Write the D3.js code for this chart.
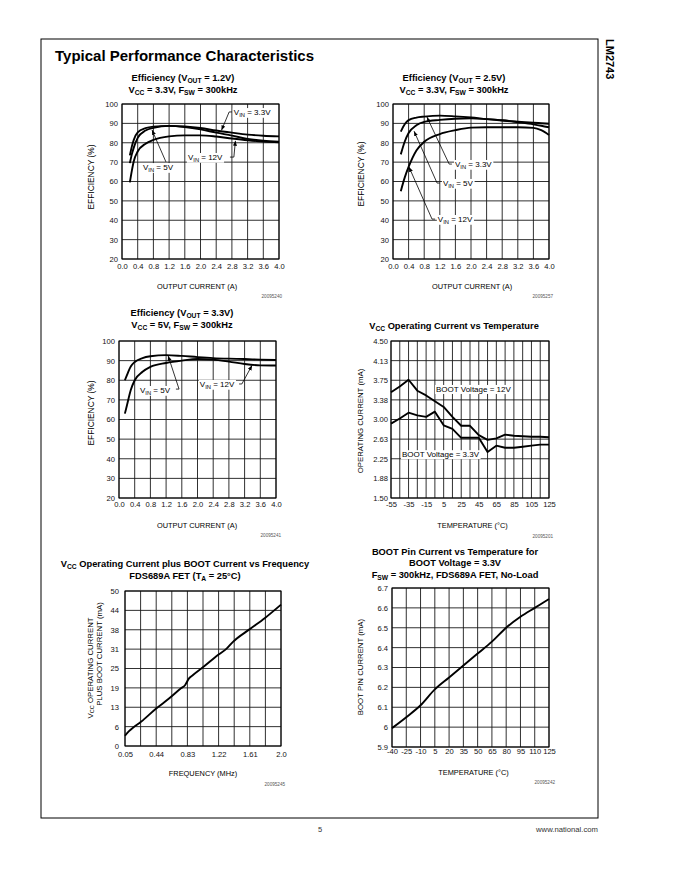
<!DOCTYPE html>
<html>
<head>
<meta charset="utf-8">
<script src="https://cdn.jsdelivr.net/npm/d3@7"></script>
<style>
  body { margin: 0; background: #fff; }
  svg { display: block; font-family: "Liberation Sans", Arial, Helvetica, sans-serif; }
</style>
</head>
<body>
<div id="page"></div>
<script>
// ---- Efficiency, VOUT = 1.2V ----
const eff1Current = [0.2, 0.25, 0.3, 0.4, 0.6, 0.8, 1.2, 1.6, 2.0, 2.4, 2.8, 3.2, 3.6, 4.0];
const eff1Vin33 = [73.5, 78, 81.5, 85.3, 87.5, 88.3, 88.7, 88.4, 87.6, 86.3, 85.2, 84.2, 83.6, 83.3];
const eff1Vin5 = [69.5, 74, 77.5, 82.5, 86.3, 87.7, 88.7, 88.1, 86.9, 85.2, 83.7, 82, 81, 80.5];
const eff1Vin12 = [59.5, 65.5, 70.5, 75.5, 79.5, 81.5, 83.3, 83.8, 83.8, 83.2, 82.2, 81.3, 80.6, 80.2];

// ---- Efficiency, VOUT = 2.5V ----
const eff2Current = [0.2, 0.3, 0.4, 0.6, 0.8, 1.2, 1.6, 2.0, 2.4, 2.8, 3.2, 3.6, 3.8, 4.0];
const eff2Vin33 = [85.7, 89.5, 91.7, 93, 93.5, 94, 93.6, 93, 92.2, 91.5, 90.9, 90.4, 90.1, 89.8];
const eff2Vin5 = [74, 80.5, 85, 89, 90.8, 91.8, 92.4, 92.6, 92.2, 91.6, 90.6, 89.5, 88.8, 88];
const eff2Vin12 = [55, 62, 67.5, 76, 80.5, 84.5, 86.5, 87.8, 88, 88, 88, 87.7, 86.5, 84];

// ---- Efficiency, VOUT = 3.3V ----
const eff3Current = [0.15, 0.2, 0.3, 0.4, 0.6, 0.8, 1.2, 1.6, 2.0, 2.4, 2.8, 3.2, 3.6, 4.0];
const eff3Vin5 = [80, 82.5, 87, 89.3, 91.3, 92.2, 92.8, 92.4, 91.8, 91.3, 91, 90.8, 90.5, 90.3];
const eff3Vin12 = [63, 67, 75, 80, 84.3, 86.8, 88.8, 90, 90.8, 90.5, 89.5, 88.3, 87.6, 87.5];

// ---- VCC operating current vs temperature ----
const opTemp = [-55, -45, -35, -25, -15, -5, 5, 15, 25, 35, 45, 55, 65, 75, 85, 95, 105, 115, 125];
const opBoot12 = [3.52, 3.63, 3.76, 3.55, 3.46, 3.35, 3.24, 3.05, 2.88, 2.88, 2.70, 2.61, 2.64, 2.71, 2.69, 2.68, 2.67, 2.67, 2.66];
const opBoot33 = [2.92, 3.02, 3.13, 3.08, 3.05, 3.15, 2.89, 2.82, 2.65, 2.65, 2.65, 2.38, 2.50, 2.46, 2.46, 2.48, 2.50, 2.52, 2.52];

// ---- VCC + BOOT current vs frequency ----
const freqMHz = [0.05, 0.10, 0.15, 0.25, 0.44, 0.60, 0.75, 0.80, 0.85, 0.90, 1.02, 1.22, 1.32, 1.40, 1.61, 1.80, 2.0];
const freqCurrent = [3.3, 4.8, 5.9, 7.8, 12.1, 15.3, 18.6, 19.6, 21.8, 22.9, 25.3, 29.5, 31.4, 33.6, 37.7, 41.3, 45.6];

// ---- BOOT pin current vs temperature ----
const bootTemp = [-40, -25, -10, 5, 20, 35, 50, 65, 80, 95, 110, 125];
const bootCurrent = [5.995, 6.05, 6.11, 6.19, 6.25, 6.31, 6.37, 6.43, 6.50, 6.555, 6.60, 6.645];

// ---- axes ----
const effXTicks = [0, 0.4, 0.8, 1.2, 1.6, 2.0, 2.4, 2.8, 3.2, 3.6, 4.0];
const effXLabels = ['0.0', '0.4', '0.8', '1.2', '1.6', '2.0', '2.4', '2.8', '3.2', '3.6', '4.0'];
const effYTicks = [20, 30, 40, 50, 60, 70, 80, 90, 100];
const effYLabels = ['20', '30', '40', '50', '60', '70', '80', '90', '100'];

const opXGrid = [-55, -45, -35, -25, -15, -5, 5, 15, 25, 35, 45, 55, 65, 75, 85, 95, 105, 115, 125];
const opXTicks = [-55, -35, -15, 5, 25, 45, 65, 85, 105, 125];
const opXLabels = ['-55', '-35', '-15', '5', '25', '45', '65', '85', '105', '125'];
const opYTicks = [1.5, 1.875, 2.25, 2.625, 3.0, 3.375, 3.75, 4.125, 4.5];
const opYLabels = ['1.50', '1.88', '2.25', '2.63', '3.00', '3.38', '3.75', '4.13', '4.50'];

const freqXGrid = [0.05, 0.245, 0.44, 0.635, 0.83, 1.025, 1.22, 1.415, 1.61, 1.805, 2.0];
const freqXTicks = [0.05, 0.44, 0.83, 1.22, 1.61, 2.0];
const freqXLabels = ['0.05', '0.44', '0.83', '1.22', '1.61', '2.0'];
const freqYTicks = [0, 6.25, 12.5, 18.75, 25, 31.25, 37.5, 43.75, 50];
const freqYLabels = ['0', '6', '13', '19', '25', '31', '38', '44', '50'];

const bootXTicks = [-40, -25, -10, 5, 20, 35, 50, 65, 80, 95, 110, 125];
const bootXLabels = ['-40', '-25', '-10', '5', '20', '35', '50', '65', '80', '95', '110', '125'];
const bootYTicks = [5.9, 6.0, 6.1, 6.2, 6.3, 6.4, 6.5, 6.6, 6.7];
const bootYLabels = ['5.9', '6', '6.1', '6.2', '6.3', '6.4', '6.5', '6.6', '6.7'];

const W = 680, H = 880;
const svg = d3.select('#page').append('svg').attr('width', W).attr('height', H);

svg.append('defs').append('marker')
  .attr('id', 'arrow')
  .attr('viewBox', '0 0 10 10')
  .attr('refX', 10).attr('refY', 5)
  .attr('markerWidth', 5).attr('markerHeight', 5)
  .attr('markerUnits', 'userSpaceOnUse')
  .attr('orient', 'auto')
  .append('path')
  .attr('d', 'M0,1L10,5L0,9Z')
  .attr('fill', '#000');

// text with _{sub} markup
function rich(text, str, size) {
  const parts = str.split(/_\{([^}]*)\}/);
  let shifted = false;
  parts.forEach((p, i) => {
    if (p === '') return;
    const t = text.append('tspan').text(p);
    if (i % 2 === 1) {
      t.attr('font-size', size * 0.72).attr('dy', size * 0.22);
      shifted = true;
    } else if (shifted) {
      t.attr('dy', -size * 0.22);
      shifted = false;
    }
  });
  return text;
}

// Page frame
svg.append('rect')
  .attr('x', 41).attr('y', 39).attr('width', 557).attr('height', 779)
  .attr('fill', 'none').attr('stroke', '#000').attr('stroke-width', 1);

svg.append('text')
  .attr('x', 55).attr('y', 61)
  .attr('font-size', 15).attr('font-weight', 'bold')
  .text('Typical Performance Characteristics');

svg.append('text')
  .attr('transform', 'translate(606,39) rotate(90)')
  .attr('font-size', 11).attr('font-weight', 'bold')
  .text('LM2743');

svg.append('text')
  .attr('x', 320).attr('y', 832).attr('text-anchor', 'middle')
  .attr('font-size', 7.5).attr('fill', '#333')
  .text('5');

svg.append('text')
  .attr('x', 598).attr('y', 832).attr('text-anchor', 'end')
  .attr('font-size', 7.7).attr('fill', '#333')
  .text('www.national.com');

function drawChart(c) {
  const g = svg.append('g');
  const x = d3.scaleLinear().domain(c.xDomain).range([c.left, c.right]);
  const y = d3.scaleLinear().domain(c.yDomain).range([c.bottom, c.top]);

  // grid
  g.append('g').selectAll('line')
    .data(c.xGrid)
    .join('line')
    .attr('x1', d => x(d)).attr('x2', d => x(d))
    .attr('y1', c.top).attr('y2', c.bottom)
    .attr('stroke', '#1a1a1a').attr('stroke-width', 0.9);
  g.append('g').selectAll('line')
    .data(c.yTicks)
    .join('line')
    .attr('x1', c.left).attr('x2', c.right)
    .attr('y1', d => y(d)).attr('y2', d => y(d))
    .attr('stroke', '#1a1a1a').attr('stroke-width', 0.9);
  g.append('rect')
    .attr('x', c.left).attr('y', c.top)
    .attr('width', c.right - c.left).attr('height', c.bottom - c.top)
    .attr('fill', 'none').attr('stroke', '#000').attr('stroke-width', 1);

  // tick labels
  const xAxis = g.append('g')
    .attr('transform', `translate(0,${c.bottom})`)
    .call(d3.axisBottom(x).tickValues(c.xTicks).tickSize(0).tickPadding(c.xPad)
      .tickFormat((d, i) => c.xLabels[i]));
  const yAxis = g.append('g')
    .attr('transform', `translate(${c.left},0)`)
    .call(d3.axisLeft(y).tickValues(c.yTicks).tickSize(0).tickPadding(c.yPad)
      .tickFormat((d, i) => c.yLabels[i]));
  [xAxis, yAxis].forEach(a => {
    a.select('.domain').remove();
    a.selectAll('text').attr('font-size', 7.6).attr('fill', '#111')
      .style('font-family', '"Liberation Sans", Arial, sans-serif');
  });

  // series
  const line = d3.line()
    .x(d => x(d[0])).y(d => y(d[1]))
    .curve(c.curve || d3.curveLinear);
  c.series.forEach(s => {
    g.append('path')
      .datum(s.x.map((v, i) => [v, s.y[i]]))
      .attr('d', line)
      .attr('fill', 'none')
      .attr('stroke', '#000')
      .attr('stroke-width', 1.9)
      .attr('stroke-linejoin', 'round');
  });

  // annotations
  (c.notes || []).forEach(n => {
    if (n.path) {
      g.append('path')
        .attr('d', d3.line()(n.path.map(p => [x(p[0]), y(p[1])])))
        .attr('fill', 'none').attr('stroke', '#000').attr('stroke-width', 0.8)
        .attr('marker-end', 'url(#arrow)');
    }
    const t = g.append('text')
      .attr('x', x(n.at[0])).attr('y', y(n.at[1]))
      .attr('font-size', 8);
    rich(t, n.text, 8);
    const bb = t.node().getBBox();
    g.insert('rect', () => t.node())
      .attr('x', bb.x - 1).attr('y', bb.y)
      .attr('width', bb.width + 2).attr('height', bb.height)
      .attr('fill', '#fff');
  });

  // titles
  c.title.forEach((s, i) => {
    const t = g.append('text')
      .attr('x', c.titleX).attr('y', c.titleY[i])
      .attr('text-anchor', 'middle')
      .attr('font-size', 9.3).attr('font-weight', 'bold');
    rich(t, s, 9.3);
  });

  // axis titles
  const xt = g.append('text')
    .attr('x', c.xTitleAt[0]).attr('y', c.xTitleAt[1])
    .attr('text-anchor', 'middle').attr('font-size', 7.4);
  rich(xt, c.xTitle, 7.4);
  c.yTitle.forEach((s, i) => {
    const yt = g.append('text')
      .attr('transform', `translate(${c.yTitleAt[i][0]},${c.yTitleAt[i][1]}) rotate(-90)`)
      .attr('text-anchor', 'middle').attr('font-size', c.yTitleSize || 7.8);
    rich(yt, s, c.yTitleSize || 7.8);
  });

  g.append('text')
    .attr('x', c.idAt[0]).attr('y', c.idAt[1])
    .attr('text-anchor', 'end').attr('font-size', 4.6).attr('fill', '#555')
    .text(c.id);
}

// 1. Efficiency VOUT = 1.2V
drawChart({
  left: 122, right: 279, top: 104, bottom: 259,
  xDomain: [0, 4], yDomain: [20, 100],
  xGrid: effXTicks, xTicks: effXTicks, xLabels: effXLabels,
  yTicks: effYTicks, yLabels: effYLabels, xPad: 5, yPad: 4,
  curve: d3.curveMonotoneX,
  series: [
    { x: eff1Current, y: eff1Vin33 },
    { x: eff1Current, y: eff1Vin5 },
    { x: eff1Current, y: eff1Vin12 }
  ],
  notes: [
    { text: 'V_{IN} = 3.3V', at: [2.85, 94.3], path: [[2.80, 95.9], [2.73, 95.9], [2.535, 86.4]] },
    { text: 'V_{IN} = 12V', at: [1.68, 71.1], path: [[2.75, 72.6], [2.85, 72.6], [2.89, 81.0]] },
    { text: 'V_{IN} = 5V', at: [0.535, 65.9], path: [[1.12, 70.1], [0.764, 86.6]] }
  ],
  title: ['Efficiency (V_{OUT} = 1.2V)', 'V_{CC} = 3.3V, F_{SW} = 300kHz'],
  titleX: 183, titleY: [80.5, 92.5],
  xTitle: 'OUTPUT CURRENT (A)', xTitleAt: [197, 288.5],
  yTitle: ['EFFICIENCY (%)'], yTitleAt: [[93.5, 177]], yTitleSize: 8.4,
  id: '20095240', idAt: [282, 298]
});

// 2. Efficiency VOUT = 2.5V
drawChart({
  left: 393, right: 549, top: 104, bottom: 259,
  xDomain: [0, 4], yDomain: [20, 100],
  xGrid: effXTicks, xTicks: effXTicks, xLabels: effXLabels,
  yTicks: effYTicks, yLabels: effYLabels, xPad: 5, yPad: 4,
  curve: d3.curveMonotoneX,
  series: [
    { x: eff2Current, y: eff2Vin33 },
    { x: eff2Current, y: eff2Vin5 },
    { x: eff2Current, y: eff2Vin12 }
  ],
  notes: [
    { text: 'V_{IN} = 3.3V', at: [1.59, 67.5], path: [[1.51, 69], [1.44, 69], [0.87, 93.3]] },
    { text: 'V_{IN} = 5V', at: [1.28, 57.7], path: [[1.2, 59.2], [1.13, 59.2], [0.54, 86.0]] },
    { text: 'V_{IN} = 12V', at: [1.15, 39.1], path: [[1.08, 40.6], [1.0, 40.6], [0.41, 67.5]] }
  ],
  title: ['Efficiency (V_{OUT} = 2.5V)', 'V_{CC} = 3.3V, F_{SW} = 300kHz'],
  titleX: 454, titleY: [80.5, 92.5],
  xTitle: 'OUTPUT CURRENT (A)', xTitleAt: [472, 288.5],
  yTitle: ['EFFICIENCY (%)'], yTitleAt: [[363.5, 174]], yTitleSize: 8.4,
  id: '20095257', idAt: [553, 298]
});

// 3. Efficiency VOUT = 3.3V
drawChart({
  left: 119, right: 276, top: 341, bottom: 498,
  xDomain: [0, 4], yDomain: [20, 100],
  xGrid: effXTicks, xTicks: effXTicks, xLabels: effXLabels,
  yTicks: effYTicks, yLabels: effYLabels, xPad: 4, yPad: 4,
  curve: d3.curveMonotoneX,
  series: [
    { x: eff3Current, y: eff3Vin5 },
    { x: eff3Current, y: eff3Vin12 }
  ],
  notes: [
    { text: 'V_{IN} = 5V', at: [0.535, 73.5], path: [[1.45, 75.5], [1.53, 75.5], [1.25, 92.5]] },
    { text: 'V_{IN} = 12V', at: [2.06, 76.6], path: [[3.06, 78.1], [3.13, 78.1], [3.39, 87.6]] }
  ],
  title: ['Efficiency (V_{OUT} = 3.3V)', 'V_{CC} = 5V, F_{SW} = 300kHz'],
  titleX: 182, titleY: [316, 328],
  xTitle: 'OUTPUT CURRENT (A)', xTitleAt: [197, 527.5],
  yTitle: ['EFFICIENCY (%)'], yTitleAt: [[93.5, 413]], yTitleSize: 8.4,
  id: '20095241', idAt: [281, 537]
});

// 4. VCC operating current vs temperature
drawChart({
  left: 391, right: 549, top: 341, bottom: 498,
  xDomain: [-55, 125], yDomain: [1.5, 4.5],
  xGrid: opXGrid, xTicks: opXTicks, xLabels: opXLabels,
  yTicks: opYTicks, yLabels: opYLabels, xPad: 4, yPad: 3,
  series: [
    { x: opTemp, y: opBoot12 },
    { x: opTemp, y: opBoot33 }
  ],
  notes: [
    { text: 'BOOT Voltage = 12V', at: [-3.7, 3.526] },
    { text: 'BOOT Voltage = 3.3V', at: [-42.5, 2.28] }
  ],
  title: ['V_{CC} Operating Current vs Temperature'],
  titleX: 454, titleY: [328.5],
  xTitle: 'TEMPERATURE (°C)', xTitleAt: [472.5, 528],
  yTitle: ['OPERATING CURRENT (mA)'], yTitleAt: [[362.5, 421]],
  id: '20095201', idAt: [553, 538]
});

// 5. VCC + BOOT current vs frequency
drawChart({
  left: 125, right: 281, top: 591, bottom: 746,
  xDomain: [0.05, 2.0], yDomain: [0, 50],
  xGrid: freqXGrid, xTicks: freqXTicks, xLabels: freqXLabels,
  yTicks: freqYTicks, yLabels: freqYLabels, xPad: 6, yPad: 6,
  curve: d3.curveMonotoneX,
  series: [{ x: freqMHz, y: freqCurrent }],
  title: ['V_{CC} Operating Current plus BOOT Current vs Frequency', 'FDS689A FET (T_{A} = 25°C)'],
  titleX: 185, titleY: [566.5, 578.5],
  xTitle: 'FREQUENCY (MHz)', xTitleAt: [203, 776],
  yTitle: ['V_{CC} OPERATING CURRENT', 'PLUS BOOT CURRENT (mA)'],
  yTitleAt: [[92.5, 668], [101.5, 654]],
  id: '20095245', idAt: [285, 786]
});

// 6. BOOT pin current vs temperature
drawChart({
  left: 392, right: 549, top: 588, bottom: 747,
  xDomain: [-40, 125], yDomain: [5.9, 6.7],
  xGrid: bootXTicks, xTicks: bootXTicks, xLabels: bootXLabels,
  yTicks: bootYTicks, yLabels: bootYLabels, xPad: 2, yPad: 4,
  curve: d3.curveMonotoneX,
  series: [{ x: bootTemp, y: bootCurrent }],
  title: ['BOOT Pin Current vs Temperature for', 'BOOT Voltage = 3.3V', 'F_{SW} = 300kHz, FDS689A FET, No-Load'],
  titleX: 455, titleY: [554.5, 566, 577.5],
  xTitle: 'TEMPERATURE (°C)', xTitleAt: [473.5, 774.5],
  yTitle: ['BOOT PIN CURRENT (mA)'], yTitleAt: [[363, 667]],
  id: '20095242', idAt: [555, 784]
});
</script>
</body>
</html>
